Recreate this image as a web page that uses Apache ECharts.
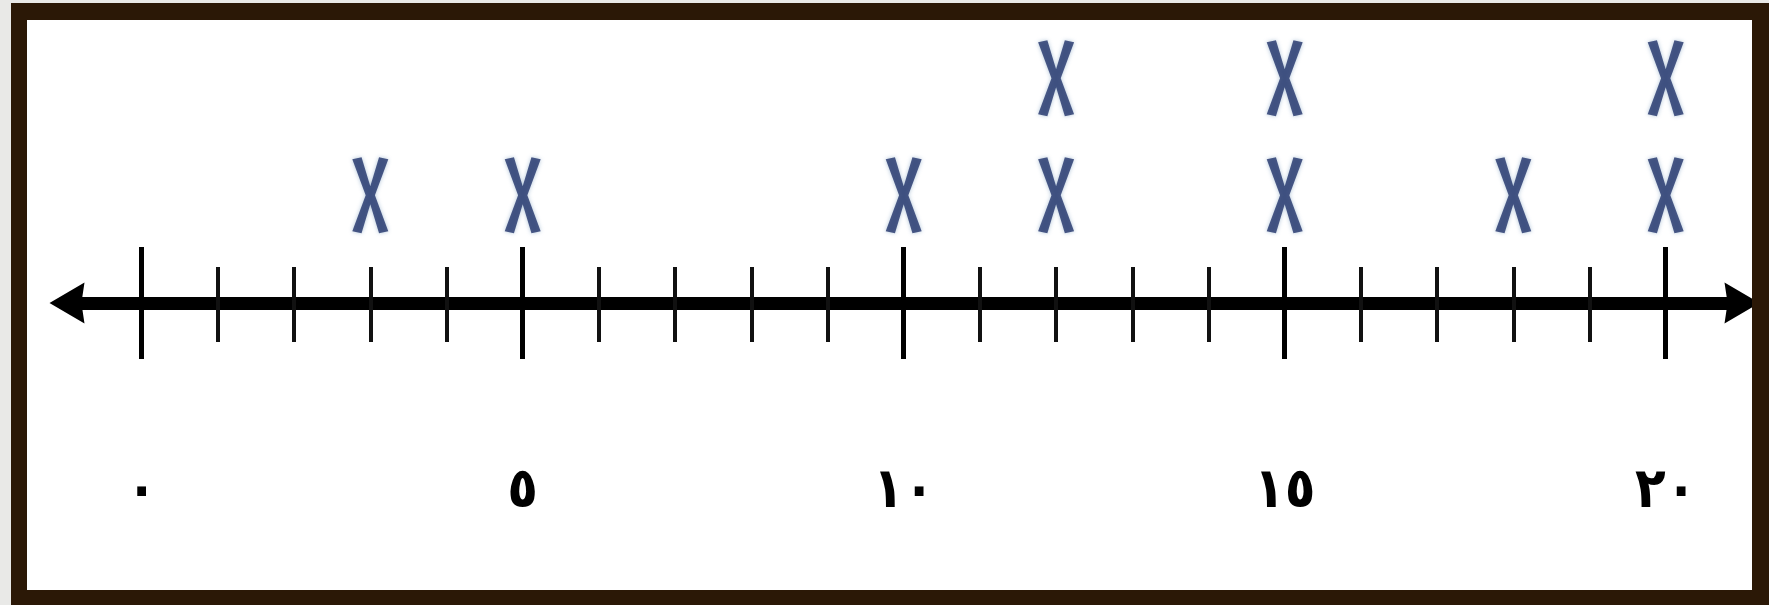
<!DOCTYPE html>
<html>
<head>
<meta charset="utf-8">
<script src="https://cdn.jsdelivr.net/npm/echarts@6/dist/echarts.min.js"></script>
<style>
  html, body { margin: 0; padding: 0; width: 1769px; height: 605px; overflow: hidden; background: #e9e9e7; }
  .paper { position: absolute; left: 27px; top: 20px; width: 1725px; height: 570px; background: #fff; }
  #chart { position: absolute; left: 0; top: 0; width: 1769px; height: 605px; }
  .frame {
    position: absolute; left: 11px; top: 3px; width: 1725px; height: 570px;
    border-style: solid; border-color: #2b1806;
    border-width: 17px 17px 15px 16px; pointer-events: none;
  }
</style>
</head>
<body>
<div class="paper"></div>
<div id="chart"></div>
<div class="frame"></div>
<script>
  // قيم المحور والعلامات
  const values = [3, 5, 10, 12, 15, 18, 20]
  const counts = [1, 1, 1, 2, 2, 1, 2]
  const tickLabels = ['٠', '٥', '١٠', '١٥', '٢٠']

  // كل علامة X نقطة فوق القيمة
  const points = []
  values.forEach((v, i) => {
    for (let k = 1; k <= counts[i]; k++) points.push([v, k])
  })

  const xMark = 'path://M0,2 L9,0 L17.5,29 L26,0 L35,2 L22,38 L35,74 L26,76 L17.5,47 L9,76 L0,74 L13,38 Z'
  const arrowHead = 'path://M20,0 L40,34 L20,31 L0,34 Z'

  const tickAxis = (inside, major, minor, showLabel) => ({
    type: 'value',
    gridIndex: 1,
    position: 'bottom',
    min: 0,
    max: 20,
    interval: 5,
    axisLine: { show: false },
    splitLine: { show: false },
    axisTick: { show: true, inside: inside, length: major, lineStyle: { color: '#000', width: 5 } },
    minorTick: { show: true, splitNumber: 5, length: minor, lineStyle: { color: '#111', width: 4 } },
    axisLabel: {
      show: showLabel,
      margin: 189,
      verticalAlign: 'middle',
      fontFamily: 'DejaVu Sans Condensed',
      fontWeight: 'bold',
      fontSize: 56,
      color: '#000',
      formatter: v => tickLabels[v / 5]
    }
  })

  const chart = echarts.init(document.getElementById('chart'))
  chart.setOption({
    animation: false,
    grid: [
      { left: 67, right: 27, top: 8, bottom: 302 },
      { left: 141.7, right: 103.3, top: 8, bottom: 302 }
    ],
    xAxis: [
      {
        type: 'value', gridIndex: 0, min: 0, max: 1,
        axisLine: { show: true, symbol: [arrowHead, arrowHead], symbolSize: [46, 35], lineStyle: { color: '#000', width: 13 } },
        axisTick: { show: false }, axisLabel: { show: false }, splitLine: { show: false }
      },
      tickAxis(true, 56, 36, false),
      tickAxis(false, 56, 39, true)
    ],
    yAxis: [
      { type: 'value', gridIndex: 0, show: false, min: 0, max: 1 },
      { type: 'value', gridIndex: 1, show: false, min: 0.08, max: 2.6 }
    ],
    series: [{
      type: 'scatter',
      xAxisIndex: 1,
      yAxisIndex: 1,
      symbol: xMark,
      symbolSize: [36, 76],
      itemStyle: { color: '#22336a', shadowBlur: 4, shadowColor: 'rgba(60,110,160,0.5)' },
      data: points
    }]
  })
</script>
</body>
</html>
